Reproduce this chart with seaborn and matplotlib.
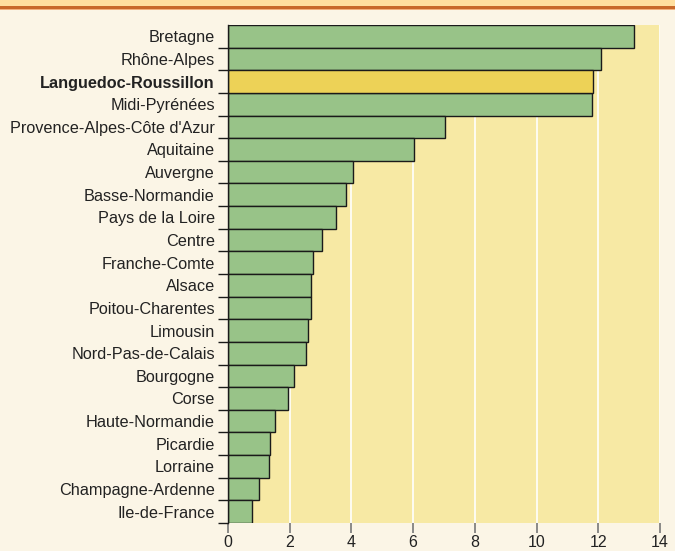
import matplotlib
matplotlib.use('Agg')
import matplotlib.pyplot as plt
import seaborn as sns
import pandas as pd
from matplotlib.patches import Rectangle
from matplotlib.ticker import FixedLocator

sns.set_theme(style='white')
plt.rcParams['font.family'] = ['Liberation Sans', 'DejaVu Sans']

# Données
regions = ['Bretagne', 'Rhône-Alpes', 'Languedoc-Roussillon', 'Midi-Pyrénées',
           "Provence-Alpes-Côte d'Azur", 'Aquitaine', 'Auvergne', 'Basse-Normandie',
           'Pays de la Loire', 'Centre', 'Franche-Comte', 'Alsace', 'Poitou-Charentes',
           'Limousin', 'Nord-Pas-de-Calais', 'Bourgogne', 'Corse', 'Haute-Normandie',
           'Picardie', 'Lorraine', 'Champagne-Ardenne', 'Ile-de-France']
valeurs = [13.16, 12.10, 11.84, 11.81, 7.03, 6.04, 4.06, 3.84, 3.49, 3.04, 2.74,
           2.69, 2.69, 2.59, 2.53, 2.13, 1.96, 1.52, 1.36, 1.34, 0.99, 0.78]
surligne = 'Languedoc-Roussillon'
x_ticks = [0, 2, 4, 6, 8, 10, 12, 14]

df = pd.DataFrame({'Region': regions, 'Valeur': valeurs})
df['Groupe'] = ['hl' if r == surligne else 'autre' for r in regions]

fond = '#FBF5E6'
fig = plt.figure(figsize=(6.75, 5.51), dpi=100, facecolor=fond)
ax = fig.add_axes([228 / 675, 1 - 523 / 551, 432 / 675, 498 / 551])
ax.set_facecolor('#F7E9A4')

sns.barplot(data=df, x='Valeur', y='Region', hue='Groupe', orient='h',
            palette={'autre': '#98C388', 'hl': '#EDD257'}, saturation=1,
            width=1.0, edgecolor='#1a1a1a', linewidth=1.0, dodge=False,
            legend=False, ax=ax, zorder=3)

ax.set_xlim(0, 14)
ax.set_ylim(len(regions) - 0.5, -0.5)
ax.set_xticks(x_ticks)
ax.grid(axis='x', color='white', linewidth=1.2, zorder=0)
ax.set_axisbelow(True)
ax.set_xlabel('')
ax.set_ylabel('')

for s in ['top', 'right', 'bottom']:
    ax.spines[s].set_visible(False)
ax.spines['left'].set_color('#1a1a1a')
ax.spines['left'].set_linewidth(1.0)
ax.spines['left'].set_zorder(4)

# Graduations
ax.tick_params(axis='x', direction='out', length=7.2, color='#777777', width=1.2,
               labelsize=11.5, labelcolor='#222222', pad=1.5, bottom=True)
ax.tick_params(axis='y', which='major', length=0, labelsize=11.7,
               labelcolor='#222222', pad=9.5)
ax.yaxis.set_minor_locator(FixedLocator([i + 0.5 for i in range(len(regions))]))
ax.tick_params(axis='y', which='minor', direction='out', length=7.2,
               color='#1a1a1a', width=1.0, left=True)
for lab in ax.get_yticklabels():
    if lab.get_text() == surligne:
        lab.set_fontweight('bold')

# Bandeau supérieur
fig.add_artist(Rectangle((0, 1 - 6 / 551), 1, 6 / 551, transform=fig.transFigure,
                         facecolor='#FFDF9F', edgecolor='none'))
fig.add_artist(Rectangle((0, 1 - 9 / 551), 1, 3 / 551, transform=fig.transFigure,
                         facecolor='#C8692A', edgecolor='none'))
fig.add_artist(Rectangle((0, 1 - 10 / 551), 1, 1 / 551, transform=fig.transFigure,
                         facecolor='#F2B27E', edgecolor='none'))

fig.savefig('out.png', dpi=100, facecolor=fond)
